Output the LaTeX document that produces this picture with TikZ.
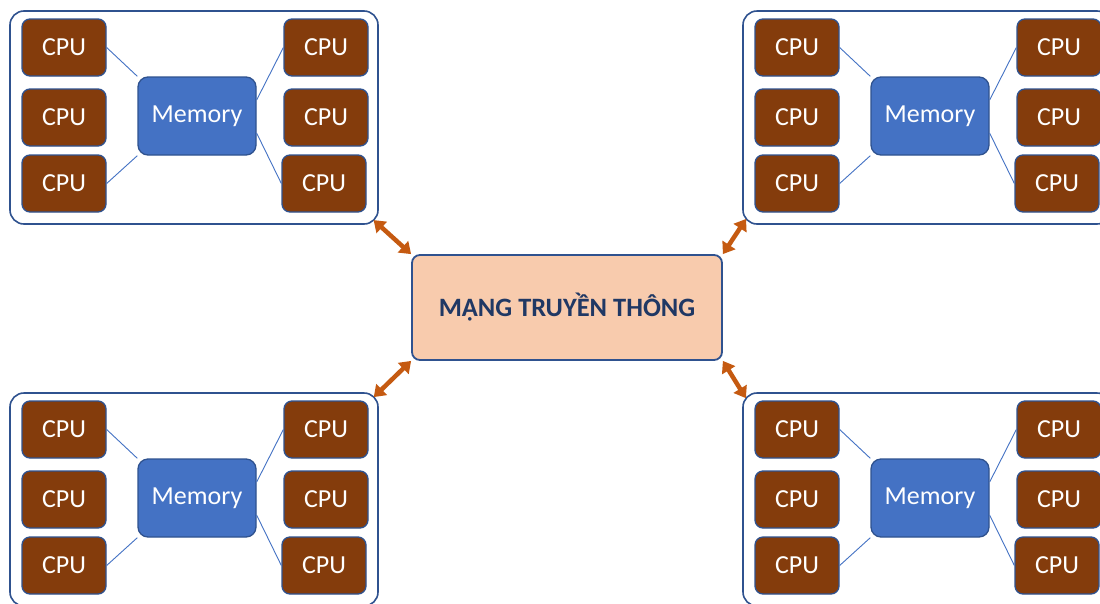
\documentclass[tikz,border=0pt]{standalone}
\usepackage{fontspec}
\setmainfont{Carlito}
\usetikzlibrary{arrows.meta,calc}
\definecolor{outl}{HTML}{2F528F}
\definecolor{accone}{HTML}{4472C4}
\definecolor{cpubrown}{HTML}{843C0C}
\definecolor{peach}{HTML}{F8CBAD}
\definecolor{arrowor}{HTML}{C55A11}
\definecolor{titleblue}{HTML}{203864}
\begin{document}
\begin{tikzpicture}[x=1pt,y=-1pt,
  cpu/.style={draw=outl, line width=1.3pt, fill=cpubrown, rounded corners=8pt,
    minimum width=84pt, minimum height=57pt, inner sep=0pt, text=white,
    font=\fontsize{26}{30}\selectfont},
  memb/.style={draw=outl, line width=1.3pt, fill=accone, rounded corners=10pt,
    minimum width=118pt, minimum height=78pt, inner sep=0pt, text=white,
    font=\fontsize{26}{30}\selectfont},
  grp/.style={draw=outl, line width=1.6pt, fill=white, rounded corners=14pt,
    minimum width=368pt, minimum height=213pt, inner sep=0pt},
  link/.style={draw=accone, line width=0.9pt},
  net/.style={draw=outl, line width=1.8pt, fill=peach, rounded corners=8pt,
    minimum width=310pt, minimum height=105pt, inner sep=0pt, text=titleblue,
    font=\bfseries\fontsize{26.5}{30}\selectfont},
  dbl/.style={{Triangle[length=11pt,width=15pt]}-{Triangle[length=11pt,width=15pt]},
    draw=arrowor, line width=4.5pt}
]
\useasboundingbox (0,0) rectangle (1100,603);
\clip (0,0) rectangle (1100,603);
\foreach \g/\dx/\dy in {tl/0/0,tr/733/0,bl/0/382,br/733/382}{
  \node[grp] (\g-box) at (\dx+194,\dy+117.5) {};
  \node[cpu] (\g-l1) at (\dx+64,\dy+47.5) {CPU};
  \node[cpu] (\g-l2) at (\dx+64,\dy+117.5) {CPU};
  \node[cpu] (\g-l3) at (\dx+64,\dy+183.5) {CPU};
  \node[cpu] (\g-r1) at (\dx+326,\dy+47.5) {CPU};
  \node[cpu] (\g-r2) at (\dx+326,\dy+117.5) {CPU};
  \node[cpu] (\g-r3) at (\dx+324,\dy+183.5) {CPU};
  \node[memb] (\g-mem) at (\dx+197,\dy+116) {Memory};
  \draw[link] (\g-l1.east) -- (\g-mem.north west);
  \draw[link] (\g-l3.east) -- (\g-mem.south west);
  \draw[link] (\g-mem.15) -- (\g-r1.west);
  \draw[link] (\g-mem.-16) -- (\g-r3.west);
}
\node[net] (net) at (567,307.5) {MẠNG TRUYỀN THÔNG};
\draw[dbl, shorten <=-7pt, shorten >=0pt] (tl-box.south east) -- (net.north west);
\draw[dbl, shorten <=-7pt, shorten >=0pt] (tr-box.south west) -- (net.north east);
\draw[dbl, shorten <=-7pt, shorten >=0pt] (bl-box.north east) -- (net.south west);
\draw[dbl, shorten <=-7pt, shorten >=0pt] (br-box.north west) -- (net.south east);
\end{tikzpicture}
\end{document}
